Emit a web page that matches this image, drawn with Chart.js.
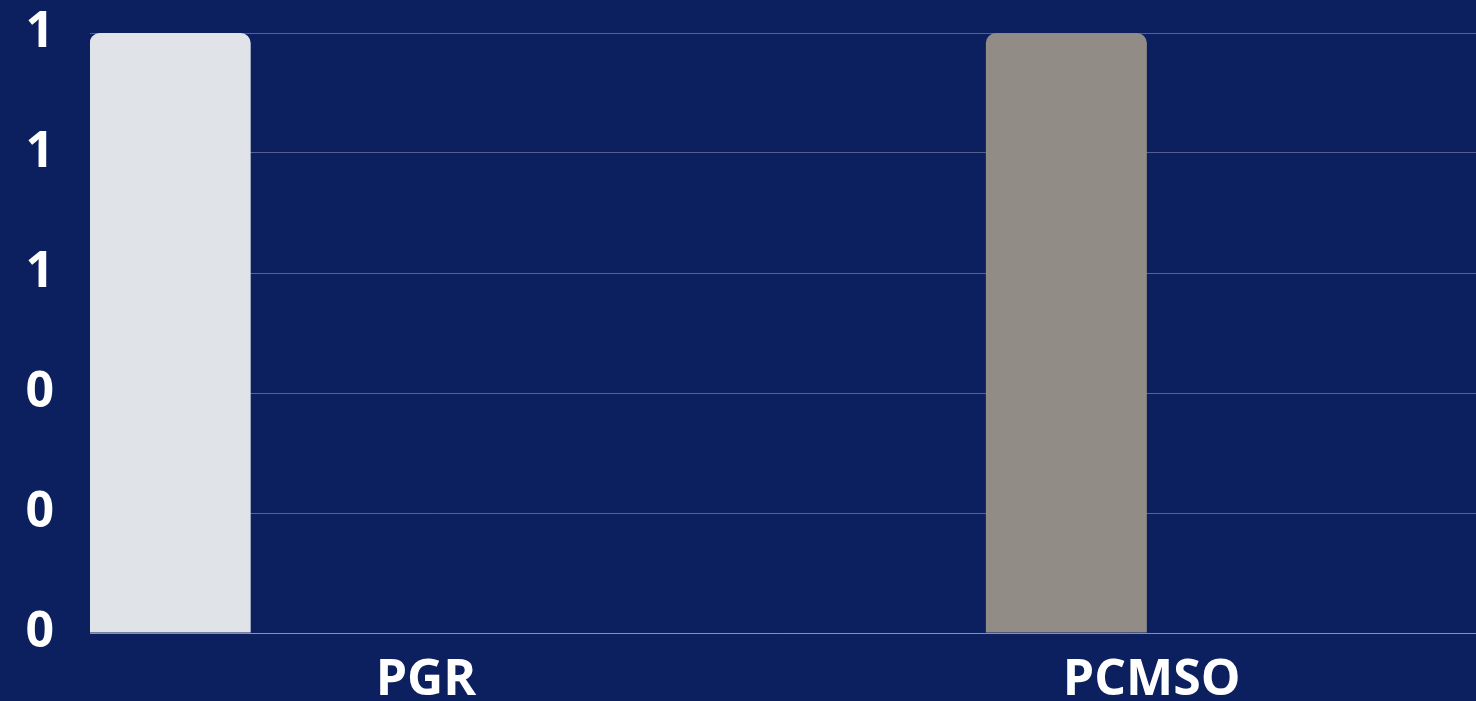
<!DOCTYPE html>
<html>
<head>
<meta charset="utf-8">
<script src="https://cdn.jsdelivr.net/npm/chart.js@4"></script>
<style>
  html, body { margin: 0; padding: 0; background: #0c1f5f; overflow: hidden; }
  #wrap { width: 1476px; height: 701px; position: relative; }
</style>
</head>
<body>
<div id="wrap"><canvas id="chart"></canvas></div>
<script>
// categories on the x axis
const categories = ["PGR", "PCMSO"];
// one series per document type, only the first two hold a value
const seriesNames = ["PGR", "PCMSO", "Série 3", "Série 4"];
const seriesValues = [
    [1, 0],
    [0, 1],
    [0, 0],
    [0, 0]
];
const seriesColors = ["#e0e3e8", "#918c85", "#5b6b9c", "#3a4f8f"];
const yTicks = [0, 0.2, 0.4, 0.6, 0.8, 1];

const grid = "rgba(255,255,255,0.3)";
const font = { family: "'Open Sans', sans-serif", size: 50, weight: "bold" };

new Chart(document.getElementById("chart"), {
    type: "bar",
    data: {
        datasets: seriesNames.map((name, i) => ({
            label: name,
            data: categories.map((_, j) => ({ x: j, y: seriesValues[i][j] })),
            backgroundColor: seriesColors[i],
            borderRadius: 10,
            borderSkipped: "start",
            categoryPercentage: 0.94,
            barPercentage: 0.944
        }))
    },
    options: {
        responsive: true,
        maintainAspectRatio: false,
        animation: false,
        layout: { padding: 0 },
        plugins: { legend: { display: false }, tooltip: { enabled: false } },
        scales: {
            x: {
                type: "linear",
                offset: false,
                min: -0.463,
                max: 1.447,
                grid: { display: false, drawTicks: false },
                border: { display: true, color: grid, width: 1 },
                afterBuildTicks: s => { s.ticks = categories.map((_, j) => ({ value: j })); },
                afterFit: s => { s.height = 68; },
                ticks: {
                    autoSkip: false,
                    maxRotation: 0,
                    color: "#ffffff",
                    font: font,
                    padding: 18,
                    callback: v => categories[v]
                }
            },
            y: {
                min: 0,
                max: 1,
                afterBuildTicks: s => { s.ticks = yTicks.map(v => ({ value: v })); },
                afterFit: s => { s.width = 90; s.paddingTop = 33; s.paddingBottom = 0; },
                grid: { color: grid, drawTicks: false },
                border: { display: false },
                ticks: {
                    color: "#ffffff",
                    font: font,
                    padding: 36,
                    callback: v => v.toFixed(0)
                }
            }
        }
    }
});
</script>
</body>
</html>
